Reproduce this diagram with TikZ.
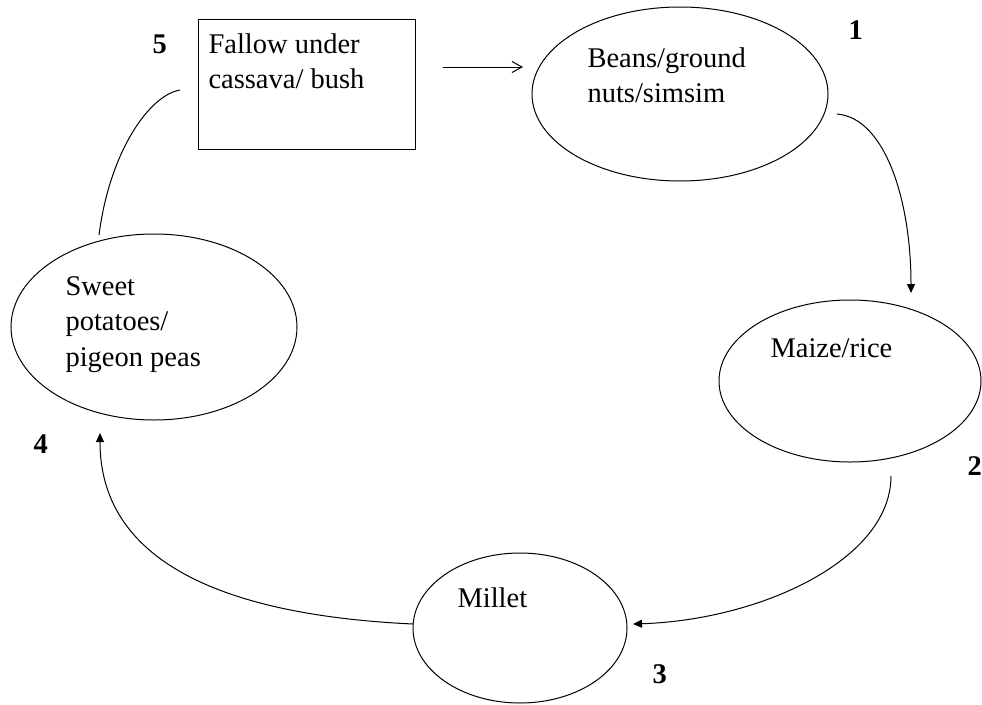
\documentclass[tikz,border=0pt]{standalone}
\usepackage{fontspec}
\setmainfont{Liberation Serif}
\usetikzlibrary{shapes.geometric,arrows.meta}

\begin{document}
\begin{tikzpicture}[x=1pt, y=-1pt, line width=1pt,
  crop/.style={draw, ellipse, inner sep=0pt},
  lbl/.style={anchor=base west, align=left, inner sep=0pt, font=\fontsize{28.5}{35.5}\selectfont},
  num/.style={anchor=base west, inner sep=0pt, font=\fontsize{28.5}{34}\selectfont\bfseries}]

\useasboundingbox (0,0) rectangle (982,704);

% the five stages
\node [draw, inner sep=0pt, minimum width=217pt, minimum height=130pt] (fallow) at (306.5,84) {};
\node [crop, minimum width=296pt, minimum height=174pt] (beans) at (680,94) {};
\node [crop, minimum width=262pt, minimum height=162pt] (maize) at (850,381) {};
\node [crop, minimum width=214pt, minimum height=150pt] (millet) at (520,628) {};
\node [crop, minimum width=286pt, minimum height=186pt] (sweet) at (154,327) {};

% base of the last line
\node [lbl] (fallowtxt) at (208,88.5) {Fallow under\\cassava/ bush};
\node [lbl] (beanstxt) at (587,102.5) {Beans/ground\\nuts/simsim};
\node [lbl] (maizetxt) at (770,357) {Maize/rice};
\node [lbl] (millettxt) at (457,607) {Millet};
\node [lbl] (sweettxt) at (65,366) {Sweet\\potatoes/\\pigeon peas};

\node [num] (n1) at (848,39) {1};
\node [num] (n2) at (967,475) {2};
\node [num] (n3) at (652,683) {3};
\node [num] (n4) at (33,453) {4};
\node [num] (n5) at (152,53) {5};

% loose ends of the connectors
\coordinate (fa) at (443,67);
\coordinate (fb) at (523,67);
\coordinate (ba) at (837,114);
\coordinate (bb) at (911,293);
\coordinate (ma) at (891,476);
\coordinate (mb) at (633,624);
\coordinate (la) at (413,624);
\coordinate (lb) at (100,433);
\coordinate (sa) at (99,235);
\coordinate (sb) at (180,90);

\draw [-{Straight Barb[length=10pt,width=11pt]}] (fa) -- (fb);

\begin{scope}[-{Triangle[length=9pt,width=8pt]}]
\draw (ba) .. controls (885,118) and (911,200) .. (bb);
\draw (ma) .. controls (891,560) and (760,620) .. (mb);
\draw (la) .. controls (220,615) and (100,560) .. (lb);
\end{scope}

\draw (sa) .. controls (110,150) and (150,95) .. (sb);

\end{tikzpicture}
\end{document}
